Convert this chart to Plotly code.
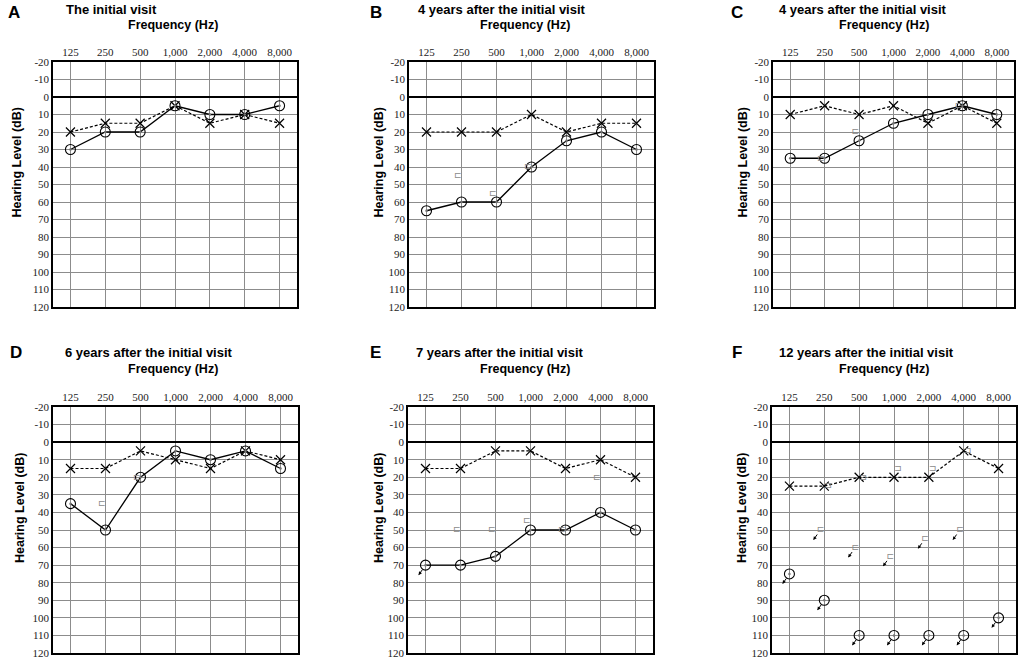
import plotly.graph_objects as go

W = 1021
H = 660

freqs = ['125', '250', '500', '1,000', '2,000', '4,000', '8,000']
levels = [-20, -10, 0, 10, 20, 30, 40, 50, 60, 70, 80, 90, 100, 110, 120]
level_labels = ['-20', '-10', '0', '10', '20', '30', '40', '50', '60', '70', '80',
                '90', '100', '110', '120']

# right ear air (O), left ear air (X), bone conduction
A_right = [30, 20, 20, 5, 10, 10, 5]
A_left = [20, 15, 15, 5, 15, 10, 15]

B_right = [65, 60, 60, 40, 25, 20, 30]
B_left = [20, 20, 20, 10, 20, 15, 15]
B_bone_right = [None, 45, 55, 40, None, None, None]

C_right = [35, 35, 25, 15, 10, 5, 10]
C_left = [10, 5, 10, 5, 15, 5, 15]
C_bone_right = [None, 35, 20, None, None, 5, None]

D_right = [35, 50, 20, 5, 10, 5, 15]
D_left = [15, 15, 5, 10, 15, 5, 10]
D_bone_right = [None, 35, 20, None, None, None, None]

E_right = [70, 70, 65, 50, 50, 40, 50]
E_right_noresp = [1, 0, 0, 0, 0, 0, 0]
E_left = [15, 15, 5, 5, 15, 10, 20]
E_bone_right = [None, 50, 50, 45, 50, 20, None]

F_right = [75, 90, 110, 110, 110, 110, 100]
F_right_noresp = [1, 1, 1, 1, 1, 1, 1]
F_left = [25, 25, 20, 20, 20, 5, 15]
F_bone_right = [None, 50, 60, 65, 55, 50, None]
F_bone_right_noresp = [0, 1, 1, 1, 1, 1, 0]
F_bone_left = [None, 25, 20, 15, 15, 5, None]

panels = [
    dict(letter='A', title='The initial visit', right=A_right, left=A_left,
         box=(53, 62, 297, 307), lab=((14, 12), (64, 9), (173, 25), 16)),
    dict(letter='B', title='4 years after the initial visit', right=B_right, left=B_left,
         bone_r=B_bone_right,
         box=(409, 62, 654, 307), lab=((376, 12), (416, 9), (525, 25), 378)),
    dict(letter='C', title='4 years after the initial visit', right=C_right, left=C_left,
         bone_r=C_bone_right,
         box=(773, 62, 1014, 307), lab=((737, 12), (777, 9), (884, 25), 742)),
    dict(letter='D', title='6 years after the initial visit', right=D_right, left=D_left,
         bone_r=D_bone_right,
         box=(53, 407, 298, 653), lab=((16, 352), (63, 353), (173, 369), 20)),
    dict(letter='E', title='7 years after the initial visit', right=E_right, left=E_left,
         bone_r=E_bone_right, right_nr=E_right_noresp,
         box=(408, 407, 653, 653), lab=((375, 352), (414, 353), (525, 369), 379)),
    dict(letter='F', title='12 years after the initial visit', right=F_right, left=F_left,
         bone_r=F_bone_right, bone_r_nr=F_bone_right_noresp, bone_l=F_bone_left,
         right_nr=F_right_noresp, right_noline=True,
         box=(772, 407, 1016, 653), lab=((737, 352), (777, 353), (884, 369), 742)),
]

SANS = 'Liberation Sans, Arial, sans-serif'
SERIF = 'Liberation Serif, Times New Roman, serif'

fig = go.Figure()
layout = dict(width=W, height=H, margin=dict(l=0, r=0, t=0, b=0, autoexpand=False),
              paper_bgcolor='white', plot_bgcolor='white', showlegend=False)
annotations = []

xs = list(range(len(freqs)))


def label(x, y, text, size, xanchor='center', angle=0):
    return dict(x=x / W, y=1 - y / H, xref='paper', yref='paper', xanchor=xanchor,
                yanchor='middle', text='<b>' + text + '</b>', showarrow=False,
                textangle=angle, font=dict(family=SANS, size=size, color='black'))


for i, p in enumerate(panels):
    n = '' if i == 0 else str(i + 1)
    xa = 'x' + n
    ya = 'y' + n
    x0, y0, x1, y1 = p['box']

    layout['xaxis' + n] = dict(
        domain=[x0 / W, x1 / W], anchor=ya, side='top', range=[-0.5, 6.5],
        tickvals=xs, ticktext=freqs, ticks='', showgrid=True, gridcolor='#8c8c8c',
        gridwidth=1.2, zeroline=False, showline=True, linecolor='black', linewidth=1.5,
        mirror=True, automargin=False,
        tickfont=dict(family=SERIF, size=11, color='#222'), fixedrange=True)
    layout['yaxis' + n] = dict(
        domain=[1 - y1 / H, 1 - y0 / H], anchor=xa, range=[120, -20],
        tickvals=levels, ticktext=level_labels, ticks='', showgrid=True,
        gridcolor='#8c8c8c', gridwidth=1.2,
        zeroline=True, zerolinecolor='black', zerolinewidth=2,
        showline=True, linecolor='black', linewidth=1.5, mirror=True, automargin=False,
        tickfont=dict(family=SERIF, size=11, color='#222'), fixedrange=True)

    # left ear air conduction
    fig.add_trace(go.Scatter(
        x=xs, y=p['left'], xaxis=xa, yaxis=ya, mode='lines+markers',
        line=dict(color='black', width=1.2, dash='3px,2px'),
        marker=dict(symbol='x-thin-open', size=9, line=dict(color='black', width=1.2))))

    # right ear air conduction
    fig.add_trace(go.Scatter(
        x=xs, y=p['right'], xaxis=xa, yaxis=ya,
        mode='markers' if p.get('right_noline') else 'lines+markers',
        line=dict(color='black', width=1.3),
        marker=dict(symbol='circle-open', size=10, color='black',
                    line=dict(color='black', width=1.1))))
    fig.add_trace(go.Scatter(
        x=xs, y=p['right'], xaxis=xa, yaxis=ya, mode='markers',
        marker=dict(symbol='circle', size=2.5, color='#777')))

    # bone conduction
    if p.get('bone_r'):
        fig.add_trace(go.Scatter(
            x=xs, y=p['bone_r'], xaxis=xa, yaxis=ya, mode='text', text=['⊏'] * 7,
            textposition='middle left',
            textfont=dict(family='DejaVu Sans', size=9, color='#8a8a8a')))
    if p.get('bone_l'):
        fig.add_trace(go.Scatter(
            x=xs, y=p['bone_l'], xaxis=xa, yaxis=ya, mode='text', text=['⊐'] * 7,
            textposition='middle right',
            textfont=dict(family='DejaVu Sans', size=9, color='#8a8a8a')))

    # no response arrows
    if p.get('right_nr'):
        for k, flag in enumerate(p['right_nr']):
            if flag:
                annotations.append(dict(
                    x=xs[k], y=p['right'][k], xref=xa, yref=ya, text='', showarrow=True,
                    arrowhead=2, arrowsize=0.7, arrowwidth=1, arrowcolor='black',
                    xshift=-7, yshift=-10, ax=5, ay=-7))
    if p.get('bone_r_nr'):
        for k, flag in enumerate(p['bone_r_nr']):
            if flag:
                annotations.append(dict(
                    x=xs[k], y=p['bone_r'][k], xref=xa, yref=ya, text='', showarrow=True,
                    arrowhead=2, arrowsize=0.7, arrowwidth=1, arrowcolor='black',
                    xshift=-11, yshift=-10, ax=5, ay=-7))

    (lx, ly), (tx, ty), (fx, fy), yl = p['lab']
    annotations.append(label(lx, ly, p['letter'], 17))
    annotations.append(label(tx, ty, p['title'], 13, xanchor='left'))
    annotations.append(label(fx, fy, 'Frequency (Hz)', 12.5))
    annotations.append(label(yl, (y0 + y1) / 2 - 22, 'Hearing Level (dB)', 12.5, angle=-90))

layout['annotations'] = annotations
fig.update_layout(**layout)

fig.write_html('out.html', config={'displayModeBar': False},
               post_script="document.body.style.margin='0';document.body.style.overflow='hidden';")
